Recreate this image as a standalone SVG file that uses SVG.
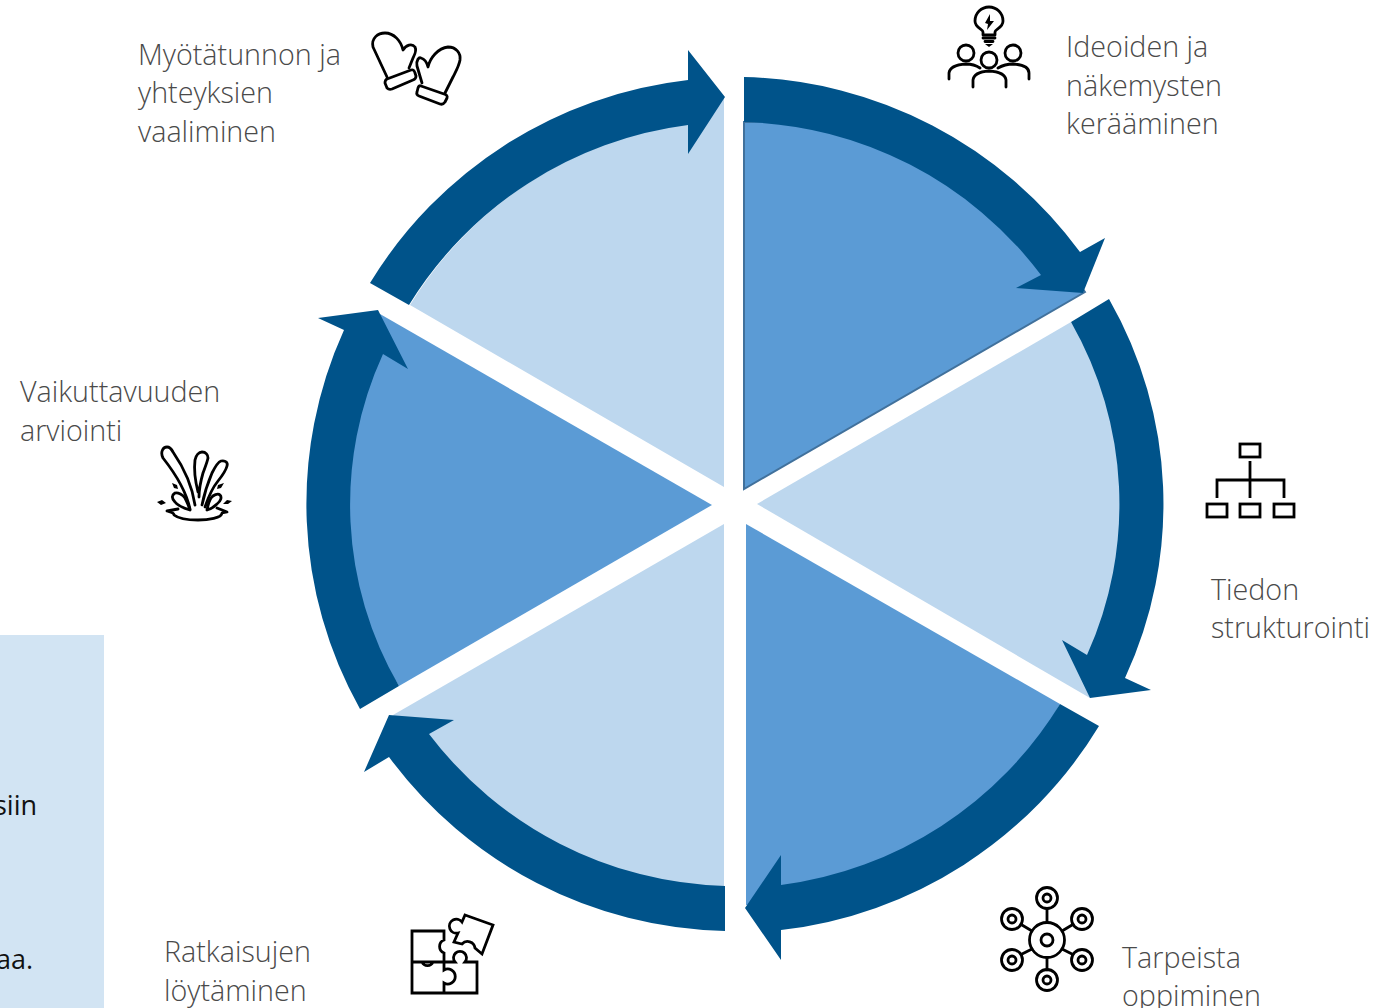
<svg xmlns="http://www.w3.org/2000/svg" width="1391" height="1008" viewBox="0 0 1391 1008">
<style>
.t{font-family:"Open Sans","Noto Sans",sans-serif;font-weight:300;font-size:28.7px;fill:#4a4a4a}
.k{font-family:"Open Sans","Noto Sans",sans-serif;font-size:27px;fill:#111}
.d{fill:#5B9BD5}.l{fill:#BDD7EE}.a{fill:#00538A}
.i{fill:none;stroke:#000;stroke-width:2.8;stroke-linecap:round;stroke-linejoin:round}
.f{fill:#000;stroke:none}
</style>
<rect width="1391" height="1008" fill="#fff"/>
<g id="panel"><rect x="0" y="635" width="104" height="373" fill="#D2E4F3"/>
<text class="k" x="-6" y="815">siin</text><text class="k" x="-4" y="969">aa.</text></g>
<g id="wedge1"><path class="d" d="M744 489V122A383 383 0 0 1 1085 292Z" stroke="#41719C" stroke-width="2"/></g>
<g id="wedge2"><path class="l" d="M757 504L1071 322A367 367 0 0 1 1090 698Z"/></g>
<g id="wedge3"><path class="d" d="M746 524L1060 704A385 385 0 0 1 746 905Z"/></g>
<g id="wedge4"><path class="l" d="M724 524V886A385 385 0 0 1 393 715Z"/></g>
<g id="wedge5"><path class="d" d="M712 505L399 686A361 361 0 0 1 380 314Z"/></g>
<g id="wedge6"><path class="l" d="M724 487L410 305A385 385 0 0 1 688 124L724 97Z"/></g>
<g id="connectors">
<path class="a" d="M744 77A429 429 0 0 1 1080 252L1105 238L1083 293L1016 288L1041 275A385 385 0 0 0 744 122Z"/>
<path class="a" d="M1109 299A413 413 0 0 1 1125 678L1151 690L1090 698L1062 640L1087 655A367 367 0 0 0 1071 322Z"/>
<path class="a" d="M1099 726A429 429 0 0 1 781 930V960L745 908L781 855V885A385 385 0 0 0 1060 704Z"/>
<path class="a" d="M725 931A429 429 0 0 1 389 757L364 772L389 715L454 720L429 734A385 385 0 0 0 725 886Z"/>
<path class="a" d="M360 709A420 420 0 0 1 344 330L318 318L378 310L408 369L383 354A361 361 0 0 0 399 686Z"/>
<path class="a" d="M370 283A429 429 0 0 1 688 80V50L725 97L688 154V125A385 385 0 0 0 409 305Z"/>
</g>
<g id="label1"><text class="t" x="1066" y="56.500">Ideoiden ja</text><text class="t" x="1066" y="95.500">näkemysten</text><text class="t" x="1066" y="133.500">kerääminen</text></g>
<g id="label2"><text class="t" x="1211" y="599.500">Tiedon</text><text class="t" x="1211" y="637.500">strukturointi</text></g>
<g id="label3"><text class="t" x="1122" y="967.500">Tarpeista</text><text class="t" x="1122" y="1005.500">oppiminen</text></g>
<g id="label4"><text class="t" x="164" y="961.500">Ratkaisujen</text><text class="t" x="164" y="1000.500">löytäminen</text></g>
<g id="label5"><text class="t" x="20" y="401.500">Vaikuttavuuden</text><text class="t" x="20" y="440.500">arviointi</text></g>
<g id="label6"><text class="t" x="138" y="64.500">Myötätunnon ja</text><text class="t" x="138" y="102.500">yhteyksien</text><text class="t" x="138" y="141.500">vaaliminen</text></g>
<g id="icon1" class="i">
<path d="M983 35V32C983 29 975 28 975 21A14 14 0 1 1 1003 21C1003 28 995 29 995 32V35Z"/>
<path class="f" d="M990 14L985 23L988 24L987 30L994 21L990 21Z"/><path d="M983 38H995M985 41.500H993"/><path class="f" d="M985 44H993L989 47Z"/>
<circle cx="966" cy="53" r="8"/><circle cx="1013" cy="53" r="8"/><circle cx="989" cy="60" r="8"/>
<path d="M949 79V73Q950 65 966 64Q974 64 980 68M1029 79V73Q1029 65 1013 64Q1005 64 998 68M973 87V80Q974 72 989 71Q1005 72 1006 80V87"/></g>
<g id="icon2" class="i">
<path d="M387 77L373 47C371 38 378 33 385 33C394 33 401 41 403 50C406 45 412 43 415 47C417 51 414 56 413 58L409 68"/>
<path d="M387 79L411 70Q414 69 415 73L416 76Q416 79 413 80L392 89Q389 90 387 88L385 83Q385 80 387 79Z"/>
<path d="M422 83L417 66C416 60 419 57 421 58C425 59 427 63 428 67C430 58 438 48 448 47C456 47 461 53 460 60C459 66 456 71 453 77L445 93"/>
<path d="M421 86L444 94Q448 95 447 98L445 102Q443 105 440 104L419 96Q416 95 417 92L418 88Q419 85 421 86Z"/></g>
<g id="icon3" class="i">
<path d="M190 509C187 495 178 477 163 458C160 452 163 447 167 447C170 447 172 450 173 452C182 465 192 485 195 505"/>
<path d="M198 492C195 480 194 468 195 460C196 455 199 452 202 452C206 452 208 455 208 458C207 463 204 470 203 473C201 480 199 490 199 497"/>
<path d="M202 505C205 490 209 480 212 473C215 467 218 462 221 461C226 460 228 463 227 466C226 470 222 476 218 481C213 487 208 498 205 507"/>
<path d="M190 510C183 508 178 506 175 502C171 498 172 495 175 493C178 492 183 495 185 498C187 502 189 506 190 510"/>
<path d="M207 510C208 505 209 501 211 498C213 495 218 493 220 495C222 497 221 501 217 504C214 507 211 509 207 510"/>
<path d="M178 509L167 511C170 512 174 512 174 515C179 519 188 520 198 520C208 520 222 518 222 513L227 512L217 508"/>
<path class="f" d="M157 502L162 500L166 503L161 505ZM172 483L177 485L178 489L174 488ZM224 483L218 485L217 489L221 488ZM232 501L227 500L223 504L228 504Z" stroke="#000" stroke-width="1"/></g>
<g id="icon4" class="i" style="stroke-linejoin:miter">
<path d="M412 931H444V940A7 7 0 0 0 444 953V962H412ZM412 962V993H477V962H465A6.500 6.500 0 1 0 455 962H444V970A7.500 7.500 0 1 1 444 983V993M422 962A6 6 0 0 0 433 962H444V970"/>
<path d="M465 915L493 925L482 954L475 948A7.500 7.500 0 0 0 462 944L454 942L458 933A7 7 0 1 1 462 922Z"/></g>
<g id="icon5" class="i">
<circle cx="1047" cy="940" r="17.500"/><circle cx="1047" cy="940" r="6"/>
<circle cx="1047" cy="898" r="10.500"/><circle cx="1047" cy="898" r="4"/>
<circle cx="1047" cy="980" r="10.500"/><circle cx="1047" cy="980" r="4"/>
<circle cx="1012" cy="919" r="10.500"/><circle cx="1012" cy="919" r="4"/>
<circle cx="1082" cy="919" r="10.500"/><circle cx="1082" cy="919" r="4"/>
<circle cx="1012" cy="960" r="10.500"/><circle cx="1012" cy="960" r="4"/>
<circle cx="1082" cy="960" r="10.500"/><circle cx="1082" cy="960" r="4"/>
<path d="M1047 909V922M1047 958V970M1022 925L1032 931M1072 925L1062 931M1022 954L1032 949M1072 954L1062 949"/></g>
<g id="icon6" class="i" style="stroke-linecap:butt;stroke-linejoin:miter">
<rect x="1240" y="444" width="20" height="13"/><rect x="1207" y="504" width="20" height="13"/><rect x="1240" y="504" width="20" height="13"/><rect x="1274" y="504" width="20" height="13"/>
<path d="M1250 461V498M1217 498V480H1284V498"/></g>
</svg>
